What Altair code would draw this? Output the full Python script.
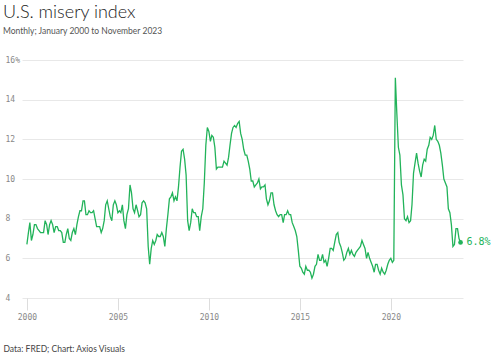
import altair as alt
import pandas as pd

# Monthly misery index (unemployment + CPI inflation), Jan 2000 – Nov 2023
y2000 = [6.7, 7.3, 7.8, 6.9, 7.2, 7.7, 7.7, 7.5, 7.4, 7.3, 7.3, 7.3]
y2001 = [7.9, 7.7, 7.2, 7.7, 7.9, 7.7, 7.3, 7.6, 7.6, 7.4, 7.4, 7.3]
y2002 = [6.8, 6.8, 7.2, 7.5, 7.0, 6.9, 7.3, 7.5, 7.2, 7.7, 8.1, 8.4]
y2003 = [8.4, 8.9, 8.9, 8.2, 8.2, 8.4, 8.3, 8.3, 8.4, 8.0, 7.6, 7.6]
y2004 = [7.6, 7.3, 7.5, 7.9, 8.7, 8.9, 8.5, 8.1, 7.9, 8.7, 8.9, 8.7]
y2005 = [8.3, 8.4, 8.3, 8.7, 7.9, 7.5, 8.2, 8.5, 9.7, 9.3, 8.5, 8.3]
y2006 = [8.7, 8.4, 8.1, 8.2, 8.8, 8.9, 8.8, 8.5, 6.6, 5.7, 6.5, 6.9]
y2007 = [6.7, 6.9, 7.2, 7.1, 7.1, 7.3, 7.1, 6.6, 7.5, 8.2, 9.0, 9.1]
y2008 = [9.3, 8.9, 9.1, 8.9, 9.6, 10.6, 11.4, 11.5, 11.0, 10.2, 7.9, 7.4]
y2009 = [7.8, 8.5, 8.3, 8.3, 8.1, 8.1, 7.4, 8.1, 8.5, 9.8, 11.7, 12.6]
y2010 = [12.4, 11.9, 12.2, 12.1, 11.6, 10.5, 10.6, 10.6, 10.6, 10.6, 10.9, 10.8]
y2011 = [10.7, 11.1, 11.7, 12.3, 12.6, 12.7, 12.6, 12.8, 12.9, 12.3, 12.0, 11.5]
y2012 = [11.2, 11.2, 10.9, 10.5, 9.9, 9.9, 9.6, 9.7, 9.8, 10.0, 9.5, 9.6]
y2013 = [9.6, 9.7, 9.0, 8.7, 8.9, 9.3, 9.3, 8.7, 8.4, 8.2, 8.1, 8.2]
y2014 = [8.2, 7.8, 8.2, 8.2, 8.4, 8.2, 8.2, 7.8, 7.6, 7.4, 7.1, 6.4]
y2015 = [5.6, 5.5, 5.3, 5.2, 5.6, 5.4, 5.4, 5.3, 5.0, 5.2, 5.6, 5.7]
y2016 = [6.2, 5.9, 5.9, 6.2, 5.8, 5.9, 5.6, 6.0, 6.5, 6.5, 6.4, 6.8]
y2017 = [7.2, 7.3, 6.8, 6.6, 6.3, 5.9, 6.0, 6.3, 6.5, 6.2, 6.4, 6.2]
y2018 = [6.1, 6.3, 6.4, 6.5, 6.6, 6.9, 6.7, 6.5, 6.0, 6.3, 6.0, 5.8]
y2019 = [5.6, 5.3, 5.7, 5.7, 5.4, 5.2, 5.5, 5.3, 5.2, 5.4, 5.7, 5.9]
y2020 = [6.0, 5.8, 5.9, 15.1, 13.3, 11.6, 11.2, 9.7, 9.2, 8.0, 7.9, 8.1]
y2021 = [7.8, 7.9, 8.7, 10.3, 10.8, 11.3, 10.8, 10.4, 10.1, 10.7, 11.0, 10.9]
y2022 = [11.5, 11.7, 12.1, 12.0, 12.2, 12.7, 12.0, 11.9, 11.7, 11.3, 10.7, 10.0]
y2023 = [9.8, 9.6, 8.5, 8.3, 7.7, 6.6, 6.7, 7.5, 7.5, 7.0, 6.8]

values = (y2000 + y2001 + y2002 + y2003 + y2004 + y2005 + y2006 + y2007 + y2008
          + y2009 + y2010 + y2011 + y2012 + y2013 + y2014 + y2015 + y2016 + y2017
          + y2018 + y2019 + y2020 + y2021 + y2022 + y2023)

y_ticks = [4, 6, 8, 10, 12, 14, 16]
x_ticks = ["2000-01-01", "2005-01-01", "2010-01-01", "2015-01-01", "2020-01-01"]
last_label = "6.8%"

dates = pd.date_range("2000-01-01", periods=len(values), freq="MS")
df = pd.DataFrame({"date": dates, "value": values})
last = df.tail(1).assign(label=last_label)

GREEN = "#22b35a"
MONO = "DejaVu Sans Mono"
SANS = "Lato"

x = alt.X(
    "date:T",
    scale=alt.Scale(domain=["1999-09-25", "2023-12-20"]),
    axis=alt.Axis(
        values=x_ticks,
        format="%Y",
        grid=False,
        domain=False,
        tickColor="#dddddd",
        tickSize=12,
        labelPadding=3,
        labelFont=MONO,
        labelFontSize=8,
        labelColor="#888888",
        title="Data: FRED; Chart: Axios Visuals",
        titleFont=SANS,
        titleFontSize=8.5,
        titleFontWeight="normal",
        titleColor="#444444",
        titleAnchor="start",
        titleAlign="left",
        titleX=-19,
        titleY=50,
        titleBaseline="middle",
    ),
)
y = alt.Y(
    "value:Q",
    scale=alt.Scale(domain=[4, 16], nice=False, zero=False),
    axis=alt.Axis(
        values=y_ticks,
        tickCount=7,
        labelOverlap=False,
        title=None,
        domain=False,
        ticks=False,
        labelAlign="left",
        labelPadding=17,
        labelFont=MONO,
        labelFontSize=8,
        labelColor="#888888",
        labelExpr="datum.value == 16 ? datum.value + '%' : datum.value",
        gridColor="#e8e8e8",
        gridWidth=1,
    ),
)

base = alt.Chart(df).encode(x=x, y=y)
line = base.mark_line(color=GREEN, strokeWidth=1.3)
dot = alt.Chart(last).mark_circle(color=GREEN, size=22, opacity=1).encode(x=x, y=y)
lab = alt.Chart(last).mark_text(
    align="left", baseline="middle", dx=6, font=MONO, fontSize=10, color=GREEN
).encode(x=x, y=y, text="label:N")

chart = (
    alt.layer(line, dot, lab)
    .properties(
        width=441,
        height=238,
        background="white",
        autosize=alt.AutoSizeParams(type="none"),
        padding={"left": 22, "top": 60, "right": 37, "bottom": 57},
        title=alt.TitleParams(
            text="U.S. misery index",
            subtitle="Monthly; January 2000 to November 2023",
            anchor="start",
            frame="group",
            dx=-19,
            offset=21,
            font=SANS,
            fontSize=18,
            fontWeight=300,
            color="#222222",
            subtitleFont=SANS,
            subtitleFontSize=8.5,
            subtitleColor="#555555",
            subtitlePadding=5,
        ),
    )
    .configure_view(strokeWidth=0, stroke="transparent")
)

chart.save("out.html", embed_options={"renderer": "svg", "actions": False})
